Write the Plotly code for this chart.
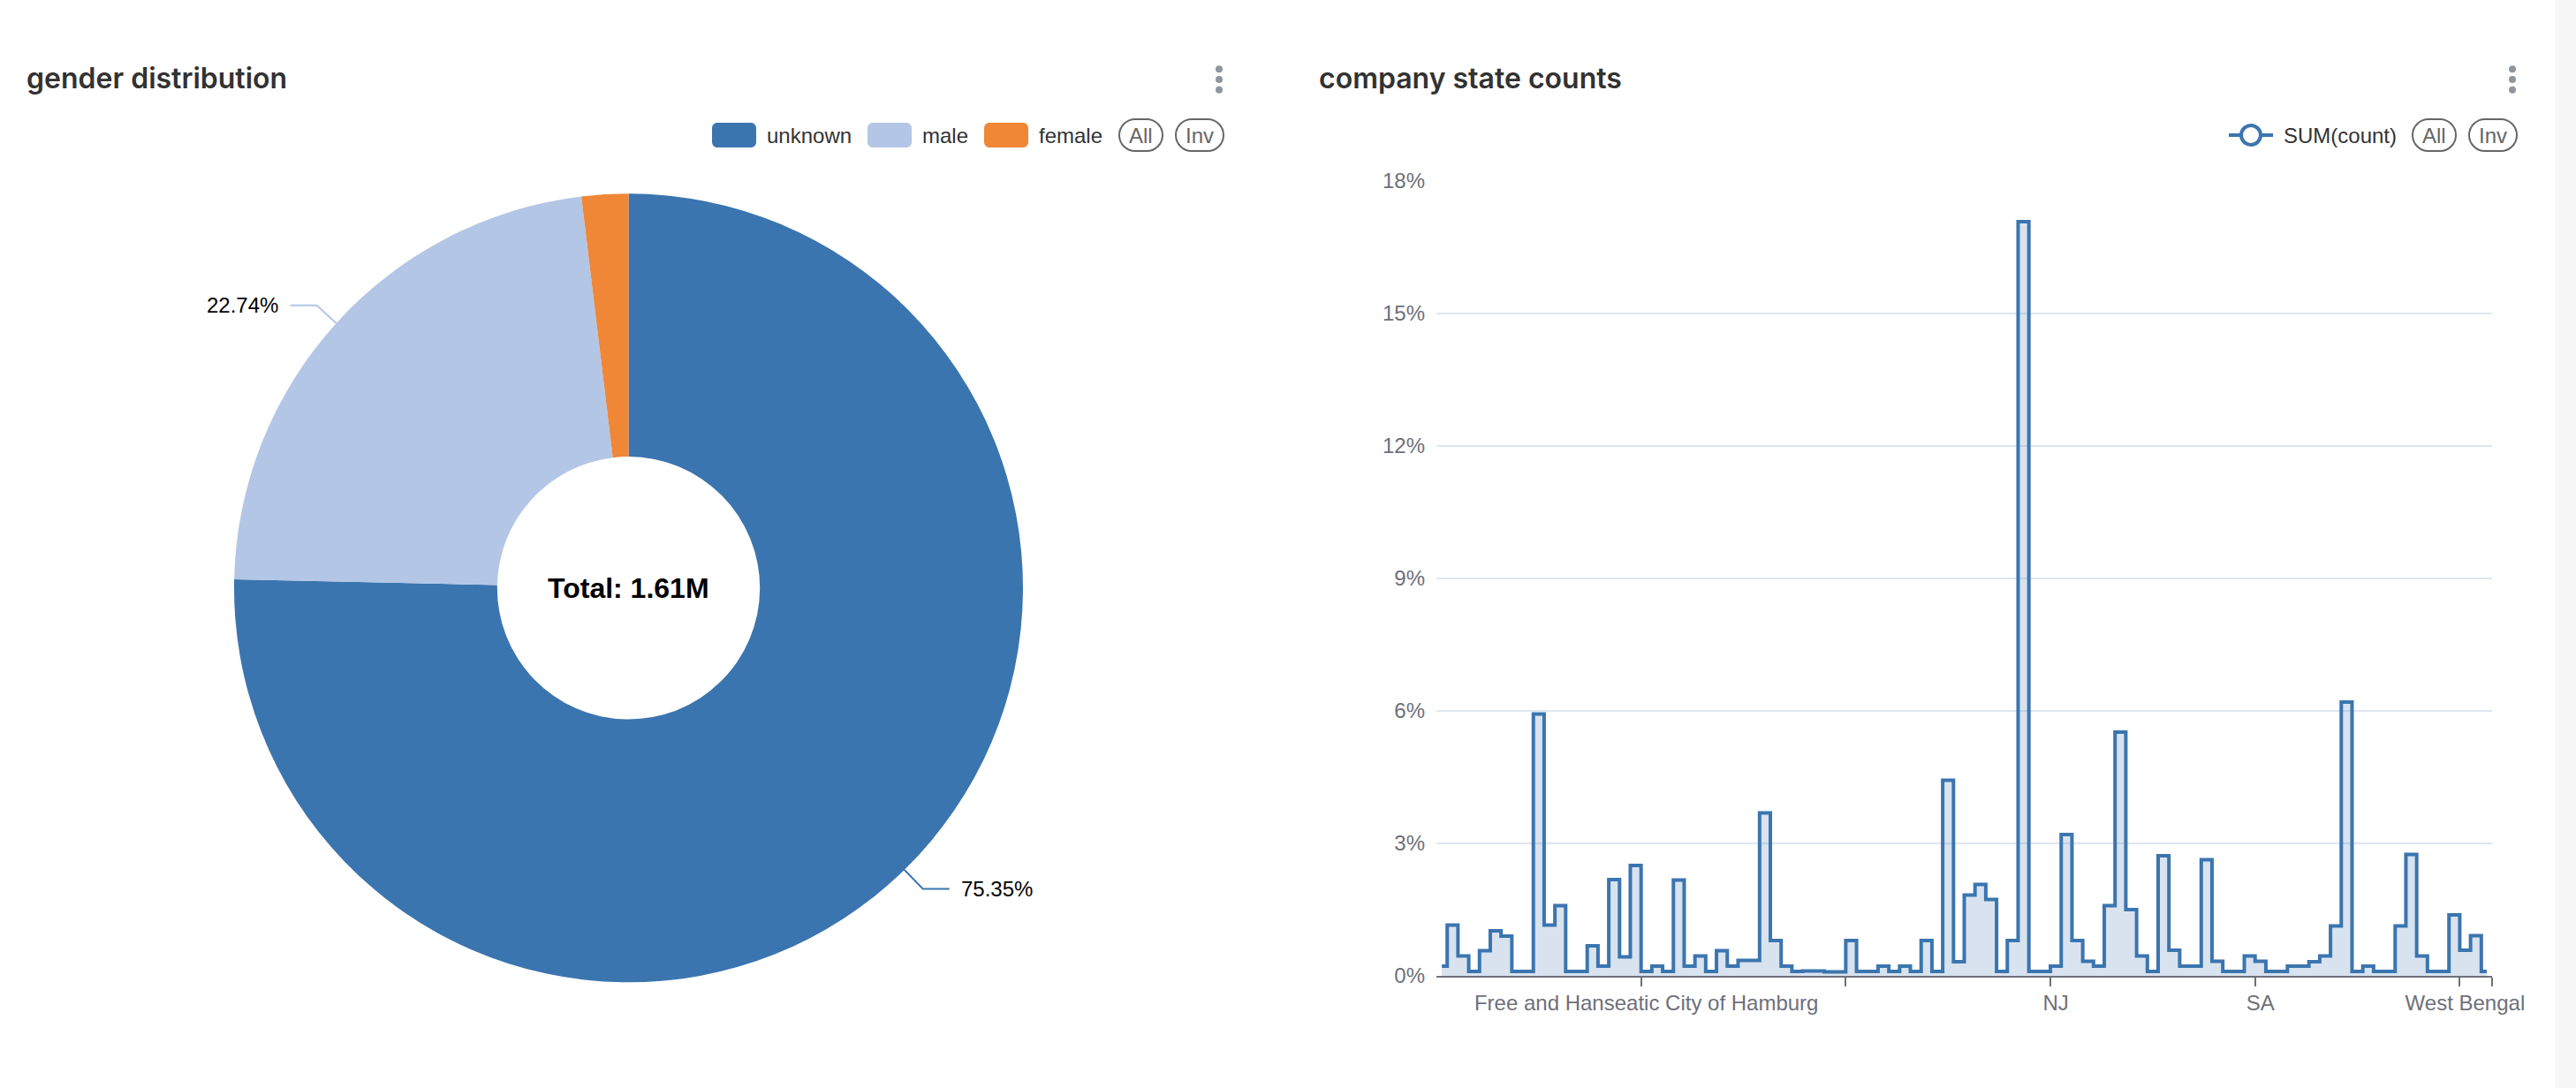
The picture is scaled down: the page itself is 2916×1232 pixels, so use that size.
import math
import plotly.graph_objects as go

W, H = 2916, 1232

# ---------------- data ----------------
gender_labels = ["unknown", "male", "female"]
gender_share = [75.35, 22.74, 1.91]          # percent of total
gender_colors = ["#3b75af", "#b3c6e6", "#ef8737"]
gender_total_text = "Total: 1.61M"

state_index = list(range(98))
state_share = [                               # percent of total, SUM(count)
    0.22, 1.15, 0.45, 0.10, 0.57, 1.02, 0.90, 0.10, 0.10, 5.93,
    1.15, 1.59, 0.10, 0.10, 0.68, 0.22, 2.18, 0.43, 2.50, 0.10,
    0.22, 0.10, 2.17, 0.22, 0.45, 0.10, 0.57, 0.22, 0.35, 0.35,
    3.69, 0.80, 0.22, 0.10, 0.11, 0.11, 0.09, 0.09, 0.80, 0.10,
    0.10, 0.22, 0.10, 0.22, 0.10, 0.80, 0.10, 4.43, 0.32, 1.83,
    2.07, 1.73, 0.10, 0.80, 17.08, 0.10, 0.10, 0.22, 3.20, 0.80,
    0.33, 0.22, 1.59, 5.52, 1.50, 0.45, 0.10, 2.72, 0.58, 0.22,
    0.22, 2.63, 0.33, 0.10, 0.10, 0.45, 0.33, 0.10, 0.10, 0.22,
    0.22, 0.32, 0.45, 1.13, 6.20, 0.10, 0.22, 0.10, 0.10, 1.13,
    2.75, 0.45, 0.10, 0.10, 1.38, 0.58, 0.91, 0.10,
]
state_label_index = [19, 57, 76, 95]
state_label_text = ["Free and Hanseatic City of Hamburg", "NJ", "SA", "West Bengal"]
state_tick_every = 19
y_tick_values = [0, 3, 6, 9, 12, 15, 18]
y_tick_text = [f"{v}%" for v in y_tick_values]

LINE_COLOR = "#3b75af"
AXIS_GREY = "#6e7079"
GRID = "#e0e6f1"
TEXT = "#333333"
ECH_FONT = "Liberation Sans, Arial, sans-serif"


def px(x):
    return x / W


def py(y):
    return 1 - y / H


def rrect_path(x0, y0, x1, y1, r):
    k = 0.5523 * r
    P = lambda x, y: f"{px(x):.6f},{py(y):.6f}"
    return (
        f"M {P(x0 + r, y0)} L {P(x1 - r, y0)} "
        f"C {P(x1 - r + k, y0)} {P(x1, y0 + r - k)} {P(x1, y0 + r)} "
        f"L {P(x1, y1 - r)} "
        f"C {P(x1, y1 - r + k)} {P(x1 - r + k, y1)} {P(x1 - r, y1)} "
        f"L {P(x0 + r, y1)} "
        f"C {P(x0 + r - k, y1)} {P(x0, y1 - r + k)} {P(x0, y1 - r)} "
        f"L {P(x0, y0 + r)} "
        f"C {P(x0, y0 + r - k)} {P(x0 + r - k, y0)} {P(x0 + r, y0)} Z"
    )


fig = go.Figure()
shapes = []
annotations = []

# ---------------- pie ----------------
PIE_CX, PIE_CY, PIE_R = 711.5, 665.8, 446.5
fig.add_trace(go.Pie(
    labels=gender_labels,
    values=gender_share,
    marker=dict(colors=gender_colors, line=dict(width=0)),
    hole=0.333,
    sort=False,
    direction="clockwise",
    rotation=0,
    textinfo="none",
    showlegend=False,
    automargin=False,
    domain=dict(x=[px(PIE_CX - PIE_R), px(PIE_CX + PIE_R)],
                y=[py(PIE_CY + PIE_R), py(PIE_CY - PIE_R)]),
))

annotations.append(dict(
    text=gender_total_text, x=px(PIE_CX), y=py(PIE_CY), xref="paper", yref="paper",
    showarrow=False, xanchor="center", yanchor="middle",
    font=dict(family=ECH_FONT, size=32, color="#000000", weight="bold"),
))

# outside labels with leader lines (derived from the slice angles)
total = sum(gender_share)
cum = 0.0
for lab, v, col in zip(gender_labels, gender_share, gender_colors):
    mid = 2 * math.pi * (cum + v / 2) / total
    cum += v
    if v / total < 0.05:
        continue
    sx, sy = math.sin(mid), -math.cos(mid)
    x0, y0 = PIE_CX + PIE_R * sx, PIE_CY + PIE_R * sy
    x1, y1 = x0 + 30 * sx, y0 + 30 * sy
    side = 1 if sx >= 0 else -1
    x2 = x1 + 30 * side
    shapes.append(dict(
        type="path", xref="paper", yref="paper",
        path=f"M {px(x0)},{py(y0)} L {px(x1)},{py(y1)} L {px(x2)},{py(y1)}",
        line=dict(color=col, width=2), layer="above",
    ))
    annotations.append(dict(
        text=f"{v:.2f}%", x=px(x2 + 11 * side), y=py(y1), xref="paper", yref="paper",
        showarrow=False, xanchor="left" if side > 0 else "right", yanchor="middle",
        font=dict(family=ECH_FONT, size=24, color="#000000"),
    ))

# ---------------- step line ----------------
X0, X1 = 1626, 2821
Y0, Y18 = 1105, 205
fig.add_trace(go.Scatter(
    x=state_index, y=state_share, mode="lines",
    line=dict(color=LINE_COLOR, width=4, shape="hvh"),
    fill="tozeroy", fillcolor="rgba(59,117,175,0.2)",
    showlegend=False, xaxis="x", yaxis="y",
))

n = len(state_index)
tickvals = [i - 0.5 for i in range(state_tick_every, n, state_tick_every)] + [n - 0.5]
ticktext = []
for tv in tickvals:
    idx = int(tv + 0.5)
    ticktext.append(state_label_text[state_label_index.index(idx)] if idx in state_label_index else "")

fig.update_layout(
    xaxis=dict(
        domain=[px(X0), px(X1)], range=[-0.5, n - 0.5],
        tickmode="array", tickvals=tickvals, ticktext=ticktext,
        ticks="outside", ticklen=10, tickwidth=2, tickcolor=AXIS_GREY,
        showline=True, linecolor=AXIS_GREY, linewidth=2,
        showgrid=False, zeroline=False, automargin=False,
        tickfont=dict(family=ECH_FONT, size=24, color=AXIS_GREY),
        ticklabelshift=6, ticklabelstandoff=-2,
        fixedrange=True,
    ),
    yaxis=dict(
        domain=[py(Y0), py(Y18)], range=[0, 18],
        tickmode="array", tickvals=y_tick_values, ticktext=y_tick_text,
        showgrid=True, gridcolor=GRID, gridwidth=2,
        zeroline=False, showline=False, ticks="", automargin=False,
        tickfont=dict(family=ECH_FONT, size=24, color=AXIS_GREY),
        ticklabelstandoff=12,
        fixedrange=True,
    ),
)

# ---------------- titles ----------------
for txt, x in [("gender distribution", 28), ("company state counts", 1491)]:
    annotations.append(dict(
        text=txt, x=px(x), y=py(89), xref="paper", yref="paper",
        showarrow=False, xanchor="left", yanchor="middle",
        font=dict(family="Inter, sans-serif", size=32, color="#323232", weight=600),
    ))

# menu dots
for cx in (1380, 2844):
    for cy in (78.3, 90, 101.7):
        shapes.append(dict(type="circle", xref="paper", yref="paper",
                           x0=px(cx - 4), x1=px(cx + 4), y0=py(cy + 4), y1=py(cy - 4),
                           fillcolor="#8e969d", line=dict(width=0)))

LEG_Y = 153


def legend_text(txt, x, color=TEXT, anchor="left"):
    annotations.append(dict(
        text=txt, x=px(x), y=py(LEG_Y), xref="paper", yref="paper",
        showarrow=False, xanchor=anchor, yanchor="middle",
        font=dict(family=ECH_FONT, size=24, color=color),
    ))


def pill(x0, x1, label):
    shapes.append(dict(type="path", xref="paper", yref="paper",
                       path=rrect_path(x0, LEG_Y - 18, x1, LEG_Y + 18, 18),
                       line=dict(color="#666666", width=2), fillcolor="rgba(0,0,0,0)"))
    legend_text(label, (x0 + x1) / 2, color="#666666", anchor="center")


# pie legend
leg_swatch_x = [806, 982, 1114]
for lab, col, sx in zip(gender_labels, gender_colors, leg_swatch_x):
    shapes.append(dict(type="path", xref="paper", yref="paper",
                       path=rrect_path(sx, LEG_Y - 14, sx + 50, LEG_Y + 14, 6),
                       fillcolor=col, line=dict(width=0)))
    legend_text(lab, sx + 60)
pill(1267, 1316, "All")
pill(1331, 1385, "Inv")

# line legend
shapes.append(dict(type="line", xref="paper", yref="paper",
                   x0=px(2523), x1=px(2573), y0=py(LEG_Y), y1=py(LEG_Y),
                   line=dict(color=LINE_COLOR, width=4)))
shapes.append(dict(type="circle", xref="paper", yref="paper",
                   x0=px(2548 - 11), x1=px(2548 + 11), y0=py(LEG_Y + 11), y1=py(LEG_Y - 11),
                   fillcolor="#ffffff", line=dict(color=LINE_COLOR, width=4)))
legend_text("SUM(count)", 2583)
pill(2731, 2780, "All")
pill(2795, 2849, "Inv")

# right grey strip
shapes.append(dict(type="rect", xref="paper", yref="paper",
                   x0=px(2892), x1=1, y0=0, y1=1,
                   fillcolor="#f7f7f7", line=dict(width=0), layer="below"))

fig.update_layout(
    width=W, height=H,
    margin=dict(l=0, r=0, t=0, b=0, pad=0, autoexpand=False),
    paper_bgcolor="#ffffff", plot_bgcolor="rgba(0,0,0,0)",
    showlegend=False, autosize=False,
    shapes=shapes, annotations=annotations,
    hovermode=False,
)

fig.write_html("out.html", config={"displayModeBar": False, "responsive": False})

# remove default page margins / scrollbars so the figure sits at (0, 0)
with open("out.html", "r", encoding="utf-8") as f:
    html = f.read()
css = "<style>html,body{margin:0;padding:0;overflow:hidden;background:#ffffff;}</style>"
if "<head>" in html:
    html = html.replace("<head>", "<head>" + css, 1)
else:
    html = css + html
with open("out.html", "w", encoding="utf-8") as f:
    f.write(html)
